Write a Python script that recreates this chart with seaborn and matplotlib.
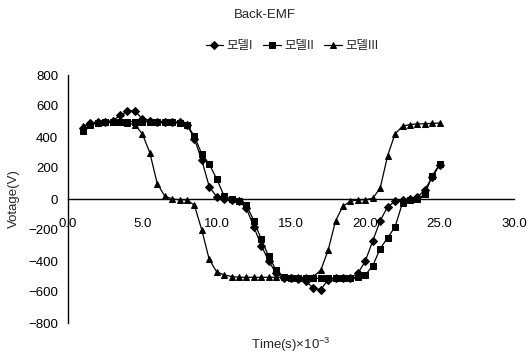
import numpy as np
import pandas as pd
import matplotlib
matplotlib.use("Agg")
import matplotlib.pyplot as plt
import seaborn as sns

# time axis (x10^-3 s), one sample every 0.5
t = np.arange(1.0, 25.01, 0.5)

model1 = [460, 490, 495, 500, 505, 540, 565, 570, 515, 505,
          500, 500, 498, 495, 480, 390, 250, 80, 15, 0,
          -5, -15, -60, -180, -300, -400, -480, -510, -512, -515,
          -530, -575, -585, -520, -512, -510, -510, -480, -400, -270,
          -140, -50, -15, -5, 0, 10, 60, 140, 220]

model2 = [440, 480, 490, 495, 495, 498, 500, 500, 500, 498,
          498, 495, 495, 492, 480, 405, 290, 225, 130, 20,
          0, -10, -40, -140, -260, -370, -460, -505, -510, -512,
          -512, -512, -512, -512, -512, -510, -510, -505, -490, -430,
          -320, -250, -180, -25, -5, 0, 30, 150, 225]

model3 = [470, 490, 490, 495, 495, 495, 490, 480, 420, 300,
          100, 20, 0, -5, -5, -40, -200, -390, -470, -490,
          -500, -505, -505, -505, -505, -505, -505, -505, -505, -505,
          -505, -500, -460, -330, -140, -45, -15, -5, -5, 5,
          70, 280, 420, 470, 480, 485, 485, 488, 490]

labels = ["모델I", "모델II", "모델III"]
x_ticks = [0, 5, 10, 15, 20, 25, 30]
y_ticks = [-800, -600, -400, -200, 0, 200, 400, 600, 800]

df = pd.concat([
    pd.DataFrame({"t": t, "v": model1, "model": labels[0]}),
    pd.DataFrame({"t": t, "v": model2, "model": labels[1]}),
    pd.DataFrame({"t": t, "v": model3, "model": labels[2]}),
])

sns.set_style("white")
plt.rcParams["font.family"] = ["Liberation Sans", "Noto Sans CJK KR", "DejaVu Sans"]

fig = plt.figure(figsize=(5.29, 3.60), dpi=100)
ax = fig.add_axes([68 / 529, 1 - 323 / 360, 446 / 529, 248 / 360])

sns.lineplot(data=df, x="t", y="v", style="model", markers=["D", "s", "^"],
             dashes=False, color="black", linewidth=0.9, markersize=4,
             markeredgecolor="black", ax=ax, legend=True)

ax.set_xlim(0, 30)
ax.set_ylim(-800, 800)
ax.set_xticks(x_ticks)
ax.set_xticklabels([f"{v:.1f}" for v in x_ticks])
ax.set_yticks(y_ticks)

for s in ["top", "right"]:
    ax.spines[s].set_visible(False)
ax.spines["bottom"].set_position(("data", 0))
ax.spines["left"].set_color("black")
ax.spines["bottom"].set_color("black")
ax.spines["left"].set_linewidth(1.0)
ax.spines["bottom"].set_linewidth(1.0)

ax.tick_params(axis="x", direction="in", length=4, pad=14, labelsize=9.5, colors="black")
ax.tick_params(axis="y", direction="in", length=4, pad=7, labelsize=9.5, colors="black")

ax.set_xlabel(r"Time(s)×10$^{\mathregular{-3}}$", fontsize=9.5)
ax.xaxis.set_label_coords(0.5, -0.052)
ax.set_ylabel("Votage(V)", fontsize=9.5)
ax.yaxis.set_label_coords(-0.108, 0.5)

fig.text(0.501, 1 - 15 / 360, "Back-EMF", ha="center", va="center", fontsize=9.5)

handles, lbls = ax.get_legend_handles_labels()
ax.legend(handles, lbls, loc="center", bbox_to_anchor=(292 / 529, 1 - 46 / 360),
          bbox_transform=fig.transFigure, ncol=3, frameon=False, fontsize=9,
          handlelength=1.4, handletextpad=0.3, columnspacing=0.8)

plt.savefig("out.png", dpi=100)
plt.close()
